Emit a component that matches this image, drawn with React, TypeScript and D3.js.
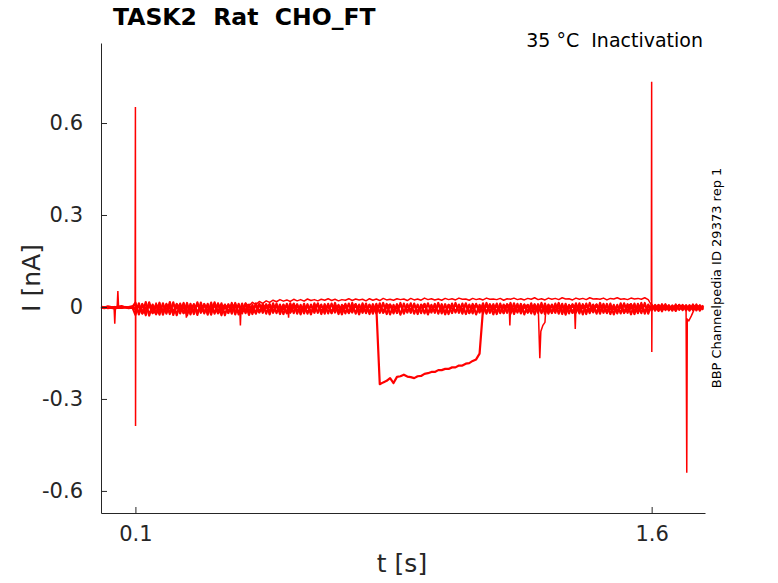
import React, { useEffect, useRef } from 'react'
import * as d3 from 'd3'

// sweeps sampled every 10 ms from t = 0, values in pA
const sampleInterval = 0.01

const sweepA = [
  -3, -1, -4, -2, 0, -3, -2, -1, -3, -2,
  14, -24, 9, -27, 15, -20, 7, -25, 12, -22,
  16, -26, 8, -21, 13, -28, 10, -23, 15, -19,
  9, -25, 14, -22, 11, -27, 8, -20, 13, -24,
  10, -21, 12, -26, 7, -22, 11, -19, 9, -24,
  12, -20, 8, -23, 10, -18, 11, -22, 7, -21,
  9, -24, 12, -19, 8, -22, 10, -20, 13, -23,
  7, -21, 11, -18, 9, -24, 12, -20, 8, -22,
  10, -19, 13, -23, 7, -21, 9, -25, 11, -18,
  12, -22, 8, -20, 10, -24, 7, -19, 13, -21,
  9, -23, 11, -18, 8, -22, 12, -20, 10, -24,
  7, -21, 13, -19, 9, -23, 11, -20, 8, -22,
  12, -18, 10, -24, 7, -21, 9, -19, 13, -23,
  8, -20, 11, -22, 10, -25, 7, -19, 12, -21,
  9, -23, 13, -18, 8, -22, 10, -20, 11, -24,
  7, -21, 12, -19, 9, -23, 10, -20, 13, -22,
  8, -12, 6, -14, 9, -11, 5, -13, 7, -10,
  6, -12, 8, -11, 5, -9,
]

const sweepB = [
  1, -2, 2, 0, -1, 1, 3, -1, 0, 2,
  -26, 12, -22, 16, -28, 8, -21, 14, -25, 10,
  -23, 15, -27, 11, -20, 13, -24, 9, -26, 14,
  -21, 10, -25, 15, -19, 12, -27, 9, -22, 13,
  -24, 11, -20, 8, -23, 12, -18, 10, -22, 9,
  -19, 11, -23, 8, -21, 12, -20, 9, -24, 10,
  -22, 8, -19, 12, -23, 9, -21, 11, -18, 7,
  -24, 10, -20, 13, -22, 8, -19, 11, -23, 9,
  -21, 12, -18, 10, -24, 7, -20, 13, -22, 9,
  -19, 11, -23, 8, -21, 12, -18, 10, -22, 9,
  -24, 7, -20, 13, -19, 11, -23, 8, -21, 10,
  -18, 12, -22, 9, -24, 11, -20, 8, -19, 13,
  -23, 10, -21, 7, -18, 12, -24, 9, -20, 11,
  -22, 8, -19, 13, -23, 10, -21, 9, -18, 12,
  -24, 11, -20, 8, -22, 13, -19, 10, -23, 7,
  -21, 12, -18, 9, -24, 11, -20, 13, -22, 8,
  -11, 7, -13, 9, -10, 6, -12, 8, -9, 7,
  -11, 6, -10, 8, -12, 5,
]

// sweep that rides on top of the band from ~0.45 s
const sweepC = [
  -1, 0, -2, 1, -1, 0, -3, 1, -2, 0,
  8, -18, 11, -15, 5, -21, 13, -12, 6, -19,
  10, -14, 7, -20, 12, -16, 4, -13, 9, -17,
  11, -15, 6, -18, 13, -12, 8, -20, 10, -14,
  7, -16, 12, 3, 15, 8, 18, 12, 20, 15,
  22, 17, 24, 19, 23, 18, 25, 20, 24, 19,
  26, 21, 24, 20, 25, 22, 27, 21, 25, 20,
  24, 22, 27, 21, 26, 23, 25, 20, 27, 22,
  26, 21, 28, 23, 25, 22, 27, 24, 26, 21,
  28, 23, 26, 22, 29, 24, 27, 23, 26, 22,
  28, 24, 27, 23, 29, 25, 26, 22, 28, 24,
  27, 23, 29, 25, 26, 24, 28, 22, 27, 25,
  29, 24, 27, 23, 28, 25, 30, 24, 27, 23,
  29, 25, 28, 24, 30, 26, 27, 23, 29, 25,
  28, 24, 30, 26, 27, 25, 29, 23, 28, 26,
  30, 25, 27, 24, 29, 26, 28, 25, 30, 24,
  5, -6, 8, -4, 6, -7, 3, -5, 7, -3,
  4, -6, 5, -2, 6, -4,
]

// sweep with the long inward current between 0.81 s and 1.10 s
const sweepD = [
  -2, -4, -1, -3, -5, -2, -3, -1, -4, -2,
  -4, 3, -14, -2, 6, -18, 0, 5, -12, -6,
  4, -16, -1, 7, -20, 2, -9, 8, -15, -3,
  5, -11, -7, 3, -17, 1, -5, 6, -13, -2,
  4, -15, -8, 2, -10, 5, -16, -3, 6, -12,
  -1, 3, -14, -6, 4, -18, 0, 5, -11, -4,
  2, -16, -7, 6, -13, -2, 3, -15, -5, 4,
  -10, 1, -17, -3, 5, -12, -6, 2, -14, -1,
  0, -252, -246, -241, -232, -248, -228, -226, -221, -227,
  -229, -232, -226, -225, -218, -216, -212, -212, -206, -206,
  -202, -202, -197, -197, -191, -191, -185, -183, -176, -171,
  -152, -8, 4, -14, -3, 6, -17, 0, 5, -12,
  -5, 3, -15, -2, 6, -13, -7, 4, -16, 1,
  -9, 5, -11, -4, 3, -17, 0, 6, -14, -2,
  4, -12, -6, 2, -16, -1, 5, -13, -7, 3,
  -15, 0, 6, -11, -4, 2, -17, -3, 5, -10,
  -4, 3, -8, -1, 4, -9, 0, 3, -7, -2,
  2, -8, -1, 4, -6, 0,
]

const sweepE = [
  -1, -3, 0, -2, -4, -1, -2, 0, -3, -1,
  -8, 5, -20, -12, 9, -3, -24, 2, -15, 7,
  -5, -19, 10, -9, -1, -22, 4, -13, 8, -6,
  -17, 3, -10, 11, -21, -4, 6, -14, -2, 9,
  -18, -7, 5, -12, 1, -20, 7, -9, -3, 8,
  -16, 2, -11, 6, -19, -5, 9, -13, 0, -8,
  4, -17, -2, 8, -14, -6, 3, -20, 5, -10,
  -1, 7, -18, -4, 9, -12, 2, -16, 6, -7,
  -13, 4, -19, 0, 8, -11, -3, 7, -17, 3,
  -9, 6, -15, -1, 9, -20, 2, -12, 5, -6,
  -18, 7, -4, -14, 3, -10, 8, -19, -2, 6,
  -11, 1, -16, 7, -7, -13, 4, -20, 9, -5,
  -15, 2, -9, 8, -18, -3, 6, -12, 0, -8,
  5, -17, -1, 9, -14, -6, 3, -19, 7, -10,
  -2, 6, -16, -4, 8, -12, 1, -18, 5, -7,
  -13, 4, -20, 2, 9, -11, -3, 7, -15, 0,
  -6, 4, -9, 1, -5, 3, -8, 0, 5, -4,
  2, -7, 3, -5, 1, -3,
]

const bandSweeps = [sweepA, sweepB, sweepE, sweepD]
const topSweep = sweepC

// fast transients [t (s), I (nA)]
const preBlip: [number, number][] = [[0.038, 0], [0.040, -0.055], [0.042, 0], [0.047, 0], [0.049, 0.052], [0.051, 0]]
const stepOnSpike: [number, number][] = [[0.099, 0], [0.1, 0.652], [0.1004, -0.388], [0.101, 0.01], [0.102, 0]]
const dip1: [number, number][] = [[0.246, 0], [0.248, -0.035], [0.25, 0]]
const dip2: [number, number][] = [[0.403, 0], [0.405, -0.06], [0.407, 0]]
const dip3: [number, number][] = [[0.543, 0], [0.545, -0.035], [0.547, 0]]
const dip4: [number, number][] = [[1.186, 0], [1.188, -0.06], [1.19, 0]]
const dipCluster: [number, number][] = [[1.268, 0], [1.271, -0.02], [1.275, -0.167], [1.278, -0.08], [1.284, -0.06], [1.29, -0.05], [1.292, -0.015], [1.295, 0]]
const dip5: [number, number][] = [[1.376, 0], [1.378, -0.072], [1.38, 0]]
const stepOffSpike: [number, number][] = [[1.599, 0.02], [1.6, 0.735], [1.6004, -0.147], [1.601, 0], [1.602, 0]]
const endSpike: [number, number][] = [[1.7, 0], [1.702, -0.541], [1.7035, -0.04], [1.708, -0.045], [1.715, -0.03], [1.722, -0.012], [1.728, 0]]
const transients = [preBlip, stepOnSpike, dip1, dip2, dip3, dip4, dipCluster, dip5, stepOffSpike, endSpike]

const xTicks = [0.1, 1.6]
const yTicks = [-0.6, -0.3, 0, 0.3, 0.6]

const W = 778
const H = 583
const ink = '#262626'
const font = 'DejaVu Sans, sans-serif'

const App: React.FC = () => {
  const xAxisRef = useRef<SVGGElement>(null)
  const yAxisRef = useRef<SVGGElement>(null)

  const x = d3.scaleLinear().domain([0, 1.755]).range([101, 705])
  const y = d3.scaleLinear().domain([-0.672, 0.861]).range([513, 43])

  useEffect(() => {
    const xa = d3.select(xAxisRef.current!)
    xa.selectAll('*').remove()
    xa.call(
      d3.axisBottom(x).tickValues(xTicks).tickSizeInner(-6).tickSizeOuter(0).tickPadding(13)
        .tickFormat(d => String(d))
    )
    xa.selectAll('text').attr('font-size', 21).attr('font-family', font).attr('fill', ink)
    xa.selectAll('line,path').attr('stroke', ink)

    const ya = d3.select(yAxisRef.current!)
    ya.selectAll('*').remove()
    ya.call(
      d3.axisLeft(y).tickValues(yTicks).tickSizeInner(-6).tickSizeOuter(0).tickPadding(18)
        .tickFormat(d => (d === 0 ? '0' : String(d)))
    )
    ya.selectAll('text').attr('font-size', 21).attr('font-family', font).attr('fill', ink)
    ya.selectAll('line,path').attr('stroke', ink)
  }, [])

  const sweepLine = d3.line<number>()
    .x((_, i) => x(i * sampleInterval))
    .y(d => y(d / 1000))

  const transientLine = d3.line<[number, number]>()
    .x(d => x(d[0]))
    .y(d => y(d[1]))

  return (
    <svg width={W} height={H} style={{ position: 'absolute', left: 0, top: 0, background: '#fff' }}>
      <g>
        {bandSweeps.map((s, i) => (
          <path key={'s' + i} d={sweepLine(s) || ''} fill="none" stroke="#ff0000" strokeWidth={2.2} strokeLinejoin="round" />
        ))}
        <path d={sweepLine(topSweep) || ''} fill="none" stroke="#ff0000" strokeWidth={1.5} strokeLinejoin="round" />
        {transients.map((t, i) => (
          <path key={'t' + i} d={transientLine(t) || ''} fill="none" stroke="#ff0000" strokeWidth={1.5} />
        ))}
      </g>
      <g ref={xAxisRef} transform="translate(0,513)" />
      <g ref={yAxisRef} transform="translate(101,0)" />

      <text x={113} y={25} fontFamily={font} fontWeight="bold" fontSize={23.5} fill="#000" style={{ whiteSpace: 'pre' }}>
        TASK2  Rat  CHO_FT
      </text>
      <text x={703} y={47} textAnchor="end" fontFamily={font} fontSize={19} fill="#000" style={{ whiteSpace: 'pre' }}>
        35 °C  Inactivation
      </text>
      <text x={402} y={572} textAnchor="middle" fontFamily={font} fontSize={25} fill={ink}>
        t [s]
      </text>
      <text transform="translate(40,278) rotate(-90)" textAnchor="middle" fontFamily={font} fontSize={25} fill={ink}>
        I [nA]
      </text>
      <text transform="translate(721,278) rotate(-90)" textAnchor="middle" fontFamily={font} fontSize={13} fill="#000">
        BBP Channelpedia ID 29373 rep 1
      </text>
    </svg>
  )
}

export default App
